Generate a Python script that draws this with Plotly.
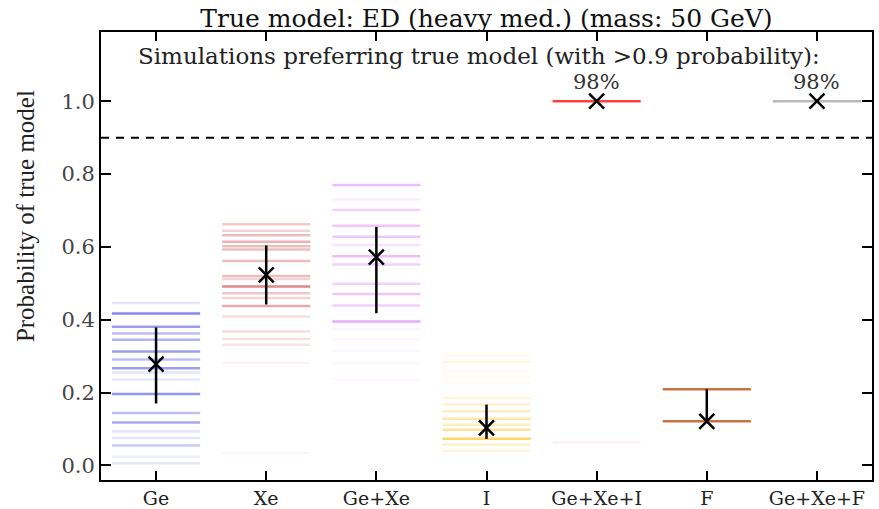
import plotly.graph_objects as go

categories = ["Ge", "Xe", "Ge+Xe", "I", "Ge+Xe+I", "F", "Ge+Xe+F"]
colors = ["rgba(40,40,225,{a})", "rgba(190,40,40,{a})", "rgba(205,70,245,{a})",
          "rgba(255,185,0,{a})", "rgba(255,30,30,{a})", "rgba(190,90,30,{a})",
          "rgba(140,140,140,{a})"]

# per-simulation results (line level, opacity weight)
ge_vals = [0.446, 0.417, 0.381, 0.362, 0.345, 0.313, 0.291, 0.267, 0.255, 0.236,
           0.196, 0.144, 0.118, 0.093, 0.075, 0.055, 0.024, 0.006]
ge_alpha = [0.12, 0.55, 0.45, 0.3, 0.35, 0.45, 0.3, 0.45, 0.12, 0.1,
            0.5, 0.3, 0.4, 0.12, 0.12, 0.25, 0.08, 0.12]
xe_vals = [0.662, 0.644, 0.632, 0.614, 0.602, 0.593, 0.561, 0.520, 0.512, 0.491,
           0.473, 0.460, 0.438, 0.409, 0.368, 0.347, 0.331, 0.282, 0.034]
xe_alpha = [0.25, 0.2, 0.3, 0.35, 0.3, 0.3, 0.3, 0.3, 0.2, 0.55,
            0.25, 0.2, 0.4, 0.15, 0.15, 0.15, 0.12, 0.05, 0.05]
gexe_vals = [0.770, 0.731, 0.701, 0.658, 0.628, 0.605, 0.574, 0.552, 0.499, 0.471,
             0.439, 0.395, 0.374, 0.347, 0.314, 0.282, 0.236]
gexe_alpha = [0.35, 0.08, 0.25, 0.3, 0.3, 0.15, 0.35, 0.25, 0.25, 0.3,
              0.25, 0.45, 0.06, 0.05, 0.05, 0.05, 0.06]
i_vals = [0.302, 0.284, 0.259, 0.241, 0.227, 0.186, 0.167, 0.149, 0.128, 0.112,
          0.098, 0.073, 0.057, 0.040]
i_alpha = [0.08, 0.12, 0.06, 0.06, 0.06, 0.15, 0.2, 0.25, 0.35, 0.25,
           0.4, 0.6, 0.2, 0.15]
gexei_vals = [1.0, 0.063]
gexei_alpha = [0.85, 0.06]
f_vals = [0.209, 0.121]
f_alpha = [0.85, 0.85]
gexef_vals = [1.0]
gexef_alpha = [0.6]

line_vals = [ge_vals, xe_vals, gexe_vals, i_vals, gexei_vals, f_vals, gexef_vals]
line_alphas = [ge_alpha, xe_alpha, gexe_alpha, i_alpha, gexei_alpha, f_alpha, gexef_alpha]

# summary markers (median and spread)
median = [0.278, 0.523, 0.572, 0.103, 1.0, 0.121, 1.0]
low = [0.170, 0.442, 0.418, 0.073, 1.0, 0.121, 1.0]
high = [0.379, 0.604, 0.655, 0.167, 1.0, 0.209, 1.0]

pct_labels = ["", "", "", "", "98%", "", "98%"]
threshold = 0.9

SERIF = "DejaVu Serif"
HALF = 0.4

fig = go.Figure()
for i, (vals, alphas) in enumerate(zip(line_vals, line_alphas)):
    for v, a in zip(vals, alphas):
        fig.add_trace(go.Scatter(
            x=[i - HALF, i + HALF], y=[v, v], mode="lines",
            line=dict(color=colors[i].format(a=a), width=2.5),
            hoverinfo="skip", showlegend=False))

fig.add_hline(y=threshold, line=dict(color="black", width=2, dash="8px,7px"))

xs = list(range(len(categories)))
fig.add_trace(go.Scatter(
    x=xs, y=median, mode="markers",
    marker=dict(symbol="x-thin", size=15, line=dict(color="black", width=2.5), color="black"),
    error_y=dict(type="data", symmetric=False,
                 array=[h - m for h, m in zip(high, median)],
                 arrayminus=[m - l for m, l in zip(median, low)],
                 color="black", thickness=2.5, width=0),
    showlegend=False))

for i, t in enumerate(pct_labels):
    if t:
        fig.add_annotation(x=i, y=1.054, text=t, showarrow=False,
                           font=dict(family=SERIF, size=21, color="#333"))

fig.add_annotation(x=2.93, y=1.123, text="Simulations preferring true model (with >0.9 probability):",
                   showarrow=False, font=dict(family=SERIF, size=23, color="#222"))

fig.add_annotation(xref="paper", yref="paper", x=-0.098, y=0.59, xanchor="center", yanchor="middle",
                   text="Probability of true model", textangle=-90, showarrow=False,
                   font=dict(family="Liberation Serif", size=25, color="#222"))

fig.update_layout(
    width=879, height=509,
    margin=dict(l=101, r=7, t=32, b=29, autoexpand=False),
    paper_bgcolor="white", plot_bgcolor="white",
    title=dict(text="True model: ED (heavy med.) (mass: 50 GeV)", x=486.5/879, xanchor="center",
               y=1 - 18/509, yanchor="middle", xref="container", yref="container",
               font=dict(family=SERIF, size=25, color="#111")),
    xaxis=dict(range=[-0.5, 6.5], tickvals=xs, ticktext=categories, automargin=False,
               showline=True, linecolor="black", linewidth=2, mirror="ticks",
               ticks="inside", ticklen=9, tickwidth=2, tickcolor="black",
               showgrid=False, zeroline=False,
               tickfont=dict(family=SERIF, size=19, color="#222")),
    yaxis=dict(range=[-0.04, 1.19], tickvals=[0, 0.2, 0.4, 0.6, 0.8, 1.0], automargin=False,
               ticktext=["0.0", "0.2", "0.4", "0.6", "0.8", "1.0"],
               showline=True, linecolor="black", linewidth=2, mirror="ticks",
               ticks="inside", ticklen=10, tickwidth=2, tickcolor="black",
               showgrid=False, zeroline=False,
               tickfont=dict(family=SERIF, size=21, color="#444")),
)

fig.write_html("out.html")
